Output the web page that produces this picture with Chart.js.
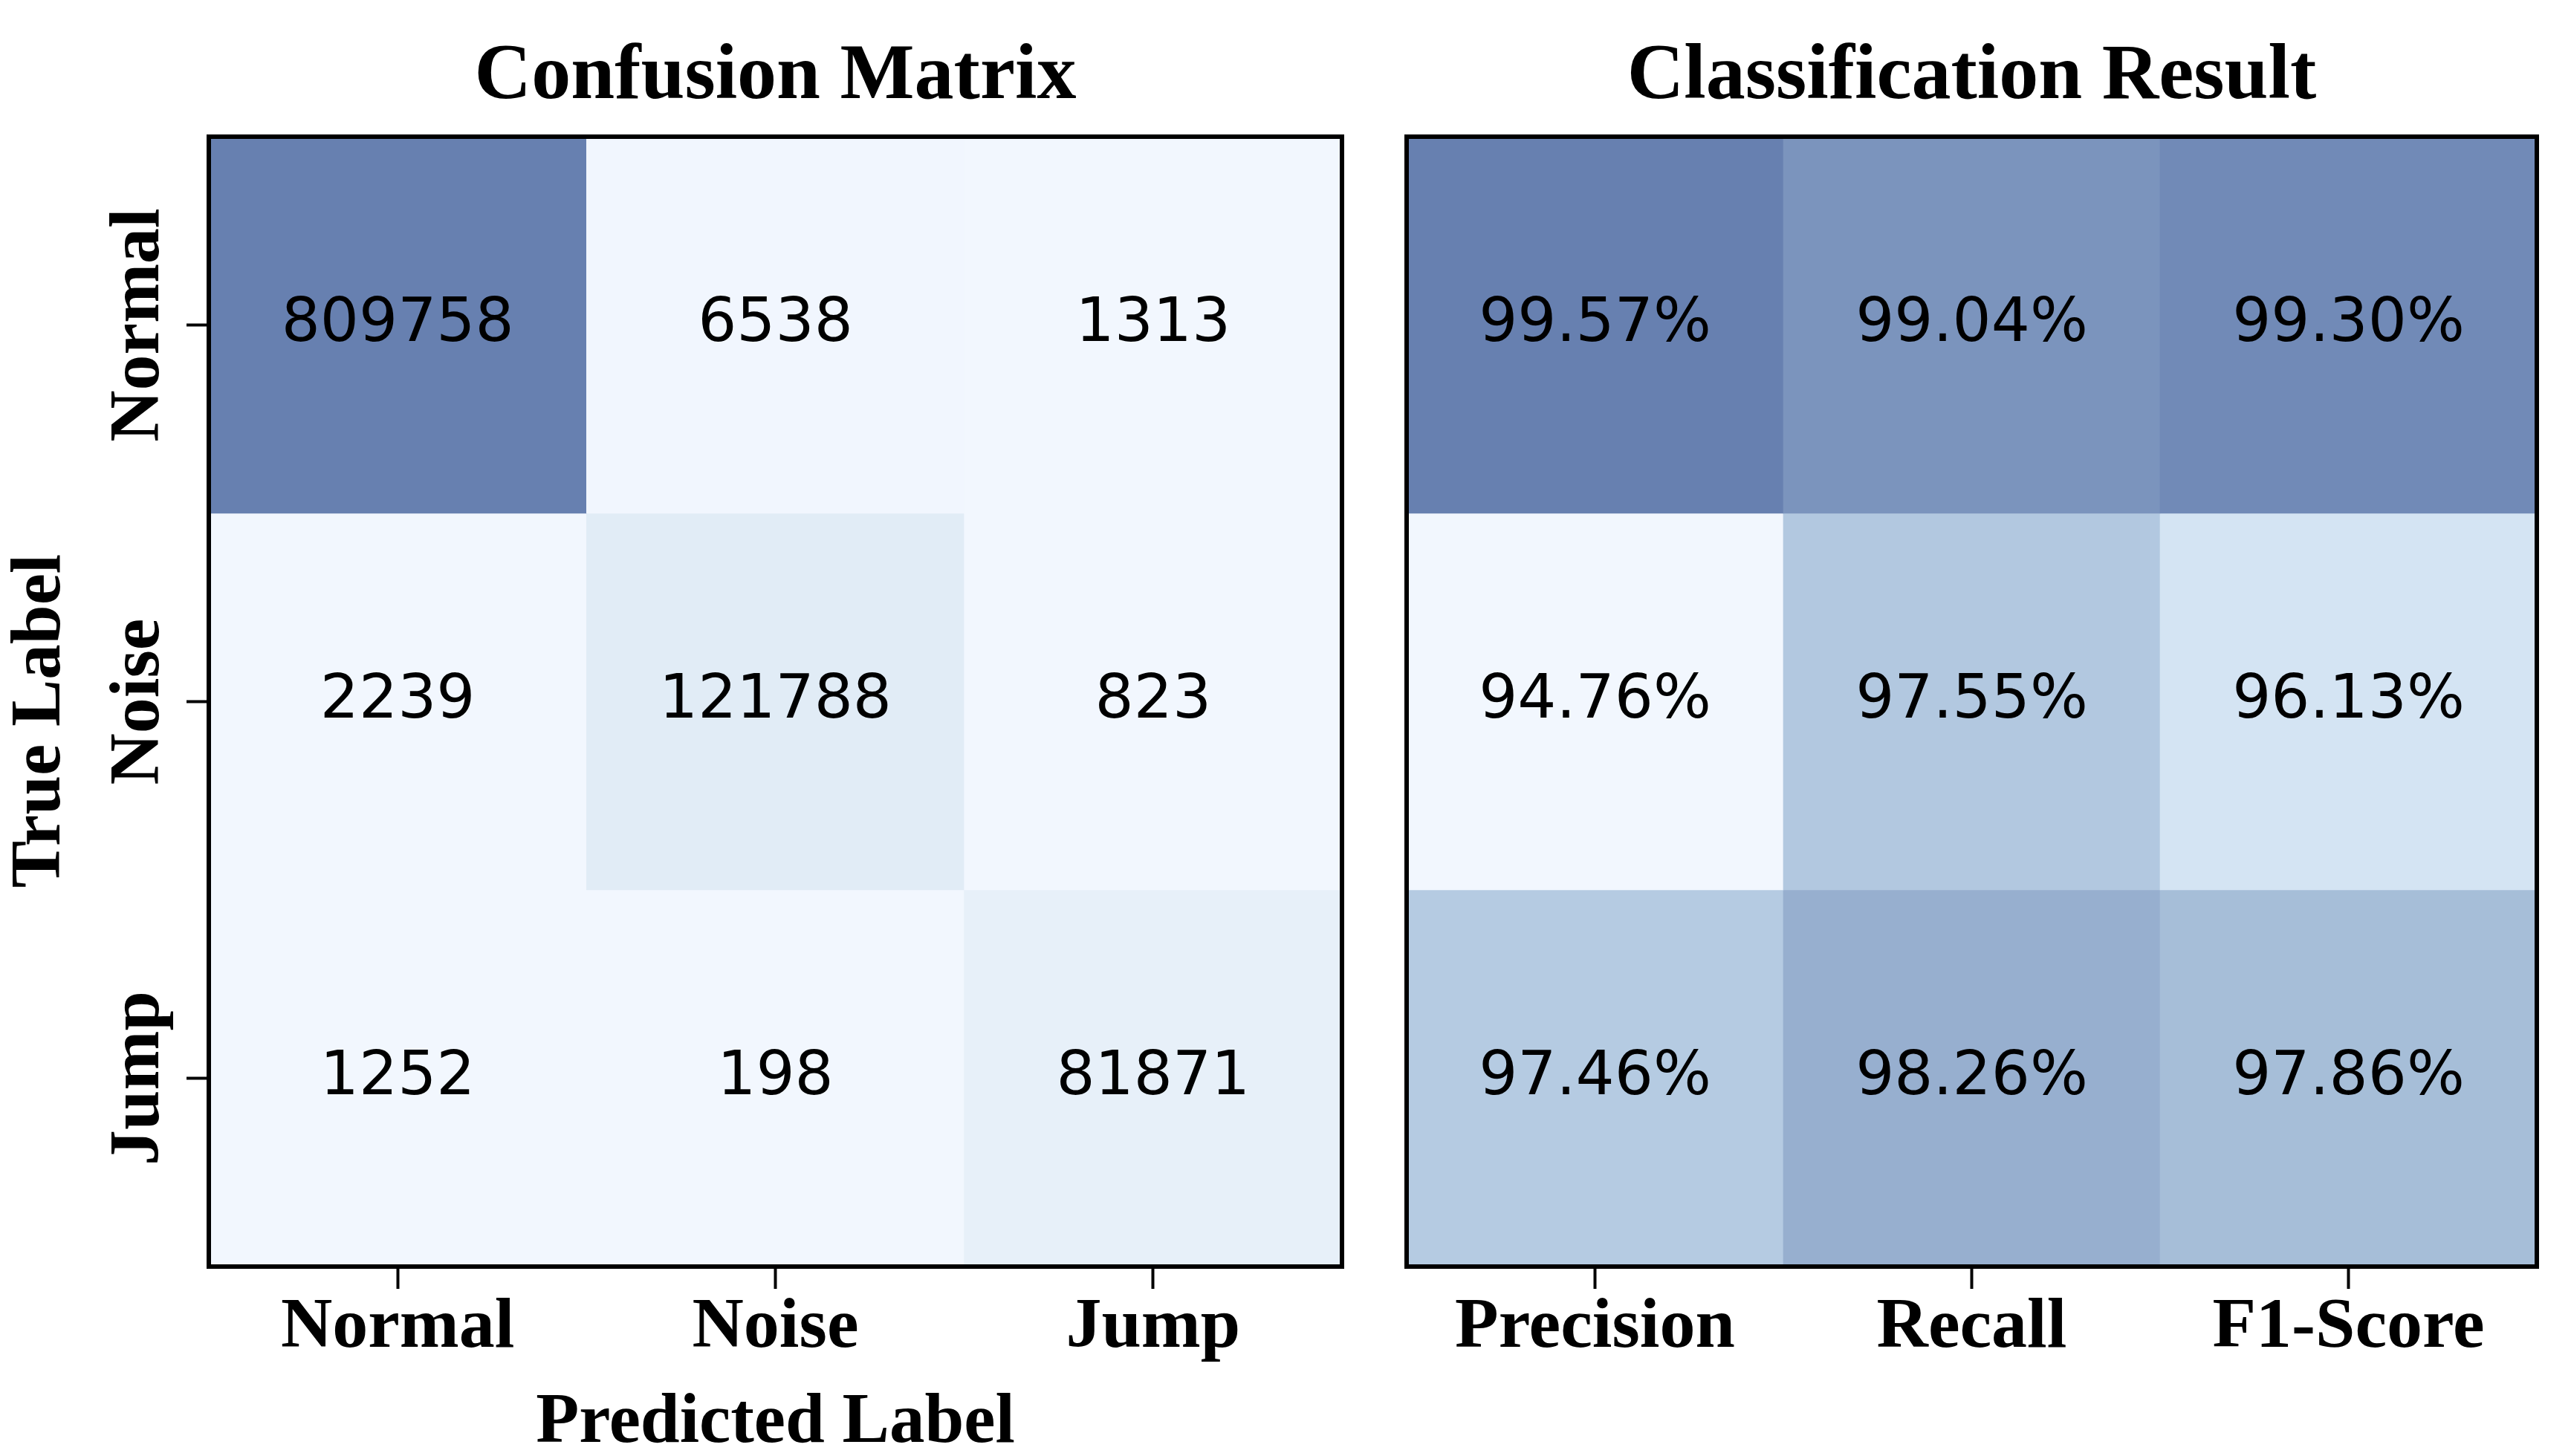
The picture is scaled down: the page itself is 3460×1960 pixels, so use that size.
<!DOCTYPE html>
<html>
<head>
<meta charset="utf-8">
<script src="https://cdn.jsdelivr.net/npm/chart.js@4.4.1/dist/chart.umd.min.js"></script>
<style>
  html, body { margin: 0; padding: 0; background: #fff; }
  body { width: 3460px; height: 1960px; position: relative; overflow: hidden; }
  .panel { position: absolute; top: 0; height: 1960px; }
  #leftPanel { left: 0; width: 1850px; }
  #rightPanel { left: 1850px; width: 1610px; }
</style>
</head>
<body>
<div class="panel" id="leftPanel"><canvas id="confusionChart"></canvas></div>
<div class="panel" id="rightPanel"><canvas id="resultChart"></canvas></div>
<script>
// Labels
const trueLabels = ["Normal", "Noise", "Jump"];
const predictedLabels = ["Normal", "Noise", "Jump"];
const metricLabels = ["Precision", "Recall", "F1-Score"];

// Confusion matrix rows (true label -> predicted counts)
const cmNormal = [809758, 6538, 1313];
const cmNoise = [2239, 121788, 823];
const cmJump = [1252, 198, 81871];

// Classification result rows (%)
const resNormal = [99.57, 99.04, 99.3];
const resNoise = [94.76, 97.55, 96.13];
const resJump = [97.46, 98.26, 97.86];

// Light blue colormap (t in 0..1)
const cmapStops = [
  [0.0, [242, 247, 254]],
  [0.15, [225, 236, 246]],
  [0.285, [212, 228, 243]],
  [0.57, [180, 202, 225]],
  [0.644, [166, 190, 216]],
  [0.728, [151, 175, 207]],
  [0.89, [123, 148, 189]],
  [1.0, [103, 128, 176]],
];

function colorFor(t) {
  t = Math.max(0, Math.min(1, t));
  for (let i = 1; i < cmapStops.length; i++) {
    const [t1, c1] = cmapStops[i];
    const [t0, c0] = cmapStops[i - 1];
    if (t <= t1) {
      const f = (t - t0) / (t1 - t0);
      const c = c0.map((v, k) => Math.round(v + (c1[k] - v) * f));
      return `rgb(${c[0]}, ${c[1]}, ${c[2]})`;
    }
  }
  const c = cmapStops[cmapStops.length - 1][1];
  return `rgb(${c[0]}, ${c[1]}, ${c[2]})`;
}

// One floating bar per cell: each dataset is a row of the heatmap
function buildDatasets(rows) {
  const all = rows.flat();
  const lo = Math.min(...all);
  const hi = Math.max(...all);
  return rows.map((row, r) => ({
    label: trueLabels[r],
    data: row.map(() => [r - 0.5, r + 0.5]),
    values: row,
    backgroundColor: row.map((v) => colorFor((v - lo) / (hi - lo))),
    borderWidth: 0,
    barPercentage: 1,
    categoryPercentage: 1,
    grouped: false,
  }));
}

const serifBold = (size) => ({
  family: "'Liberation Serif', 'Times New Roman', serif",
  weight: "bold",
  size: size,
  lineHeight: 1,
});

const tickGrid = {
  offset: false,
  drawOnChartArea: false,
  drawTicks: true,
  tickLength: 30,
  tickWidth: 4,
  tickColor: "#000",
};

function buildScales(yWidth, xTitle, showYTicks) {
  return {
    x: {
      type: "category",
      offset: true,
      grid: tickGrid,
      border: { display: false },
      ticks: {
        color: "#000",
        padding: 5,
        maxRotation: 0,
        minRotation: 0,
        font: serifBold(96),
      },
      title: {
        display: !!xTitle,
        text: xTitle || "",
        color: "#000",
        padding: 0,
        font: { ...serifBold(95), lineHeight: 0.92 },
      },
      afterFit(scale) {
        scale.height = 255;
      },
    },
    y: {
      type: "linear",
      min: -0.5,
      max: 2.5,
      reverse: true,
      afterBuildTicks(scale) {
        scale.ticks = trueLabels.map((_, i) => ({ value: i }));
      },
      grid: { ...tickGrid, display: showYTicks },
      border: { display: false },
      ticks: { display: false },
      afterFit(scale) {
        scale.width = yWidth;
      },
    },
  };
}

// Titles, cell values, frame and rotated row labels
function panelDecor(opts) {
  return {
    id: "panelDecor",
    afterDatasetsDraw(chart) {
      const ctx = chart.ctx;
      const area = chart.chartArea;
      ctx.save();
      ctx.fillStyle = "#000";
      ctx.font = "82px 'DejaVu Sans'";
      ctx.textAlign = "center";
      ctx.textBaseline = "middle";
      chart.data.datasets.forEach((ds, i) => {
        chart.getDatasetMeta(i).data.forEach((bar, j) => {
          ctx.fillText(opts.fmt(ds.values[j]), bar.x, (bar.y + bar.base) / 2);
        });
      });
      ctx.lineWidth = 6;
      ctx.strokeStyle = "#000";
      ctx.strokeRect(area.left, area.top, area.right - area.left, area.bottom - area.top);
      ctx.restore();
    },
    afterDraw(chart) {
      const ctx = chart.ctx;
      const area = chart.chartArea;
      ctx.save();
      ctx.fillStyle = "#000";
      ctx.font = "bold 106px 'Liberation Serif'";
      ctx.textAlign = "center";
      ctx.textBaseline = "alphabetic";
      ctx.fillText(opts.title, (area.left + area.right) / 2, 132);

      if (opts.rowLabels) {
        const yScale = chart.scales.y;
        ctx.font = "bold 96px 'Liberation Serif'";
        opts.rowLabels.forEach((label, i) => {
          ctx.save();
          ctx.translate(213, yScale.getPixelForValue(i));
          ctx.rotate(-Math.PI / 2);
          ctx.fillText(label, 0, 0);
          ctx.restore();
        });
      }
      if (opts.yTitle) {
        ctx.font = "bold 95px 'Liberation Serif'";
        ctx.save();
        ctx.translate(80, (area.top + area.bottom) / 2 + 26);
        ctx.rotate(-Math.PI / 2);
        ctx.fillText(opts.yTitle, 0, 0);
        ctx.restore();
      }
      ctx.restore();
    },
  };
}

function createHeatmap(canvasId, cols, rows, opts) {
  const ctx = document.getElementById(canvasId).getContext("2d");
  return new Chart(ctx, {
    type: "bar",
    data: {
      labels: cols,
      datasets: buildDatasets(rows),
    },
    options: {
      responsive: true,
      maintainAspectRatio: false,
      animation: false,
      events: [],
      layout: { padding: opts.padding },
      plugins: {
        legend: { display: false },
        tooltip: { enabled: false },
        title: { display: false },
      },
      scales: buildScales(opts.yWidth, opts.xTitle, opts.yTicks),
    },
    plugins: [panelDecor(opts)],
  });
}

createHeatmap("confusionChart", predictedLabels, [cmNormal, cmNoise, cmJump], {
  title: "Confusion Matrix",
  xTitle: "Predicted Label",
  yTitle: "True Label",
  rowLabels: trueLabels,
  yTicks: true,
  yWidth: 281,
  padding: { top: 184, left: 0, right: 44, bottom: 0 },
  fmt: (v) => String(v),
});

createHeatmap("resultChart", metricLabels, [resNormal, resNoise, resJump], {
  title: "Classification Result",
  xTitle: null,
  yTitle: null,
  rowLabels: null,
  yTicks: false,
  yWidth: 43,
  padding: { top: 184, left: 0, right: 46, bottom: 0 },
  fmt: (v) => v.toFixed(2) + "%",
});
</script>
</body>
</html>
